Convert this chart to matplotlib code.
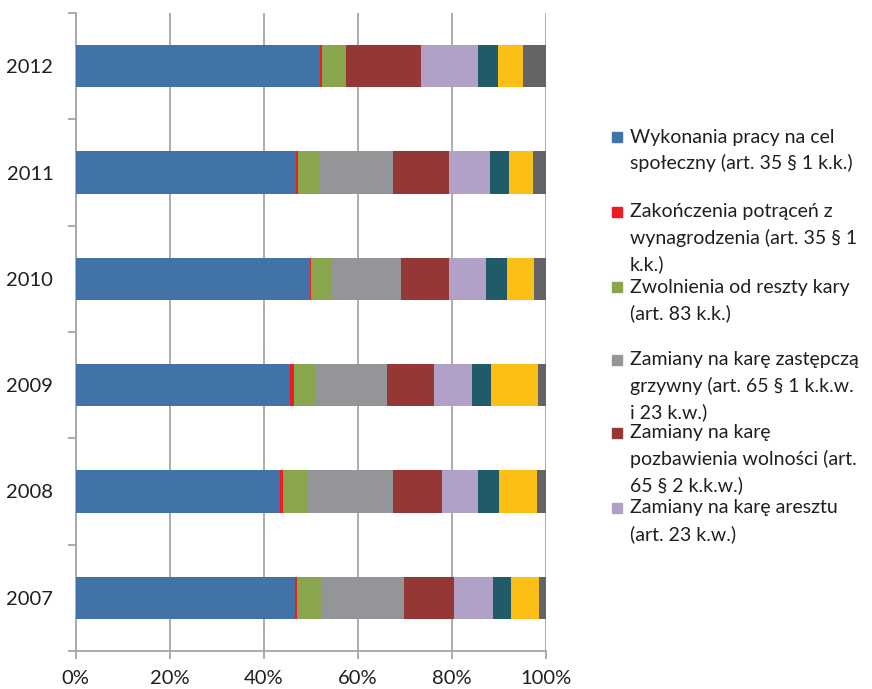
import numpy as np
import matplotlib.pyplot as plt
from matplotlib.patches import Rectangle

plt.rcParams['font.family'] = ['Lato', 'DejaVu Sans']

# Data (share in %), years bottom to top
years = ['2007', '2008', '2009', '2010', '2011', '2012']
praca = [46.8, 43.6, 45.6, 49.8, 46.9, 52.0]
potracenia = [0.3, 0.5, 0.8, 0.3, 0.4, 0.4]
zwolnienia = [5.3, 5.2, 4.8, 4.5, 4.7, 5.1]
zastepcza = [17.5, 18.3, 15.0, 14.7, 15.6, 0.0]
pozbawienie = [10.7, 10.4, 10.1, 10.2, 11.9, 16.0]
areszt = [8.3, 7.7, 8.0, 7.9, 8.7, 12.2]
inne1 = [3.8, 4.5, 4.2, 4.4, 4.0, 4.2]
inne2 = [6.0, 8.0, 9.9, 5.7, 5.1, 5.4]
inne3 = [1.3, 1.8, 1.6, 2.5, 2.7, 4.7]

series = [praca, potracenia, zwolnienia, zastepcza, pozbawienie, areszt, inne1, inne2, inne3]
colors = ['#4173A8', '#ED1C24', '#8AA64D', '#939598', '#953735',
          '#B2A1C7', '#215A68', '#FBBF15', '#636466']
legend_labels = [
    ['Wykonania pracy na cel', 'społeczny (art. 35 § 1 k.k.)'],
    ['Zakończenia potrąceń z', 'wynagrodzenia (art. 35 § 1', 'k.k.)'],
    ['Zwolnienia od reszty kary', '(art. 83 k.k.)'],
    ['Zamiany na karę zastępczą', 'grzywny (art. 65 § 1 k.k.w.', 'i 23 k.w.)'],
    ['Zamiany na karę', 'pozbawienia wolności (art.', '65 § 2 k.k.w.)'],
    ['Zamiany na karę aresztu', '(art. 23 k.w.)'],
]

W, H = 872, 689
fig = plt.figure(figsize=(W / 100, H / 100), dpi=100)
ax = fig.add_axes([75.5 / W, 1 - 651 / H, 470 / W, 638 / H])

vals = np.array(series)
totals = vals.sum(axis=0)
pct = vals / totals * 100
y = np.arange(len(years))
left = np.zeros(len(years))
for i, row in enumerate(pct):
    ax.barh(y, row, left=left, height=0.4, color=colors[i], linewidth=0, zorder=3)
    left += row

grid_c = '#A6A6A6'
txt_c = '#1F1F1F'
ax.set_xlim(0, 100)
ax.set_ylim(-0.5, len(years) - 0.5)
ax.set_xticks(np.arange(0, 101, 20))
ax.set_xticklabels([f'{v}%' for v in range(0, 101, 20)])
ax.set_yticks(y)
ax.set_yticklabels(years)
ax.set_yticks(np.arange(-0.5, len(years), 1), minor=True)
ax.xaxis.grid(True, color=grid_c, linewidth=1.3, zorder=0)
ax.set_axisbelow(True)
for s in ['top', 'right']:
    ax.spines[s].set_visible(False)
for s in ['left', 'bottom']:
    ax.spines[s].set_color(grid_c)
    ax.spines[s].set_linewidth(1.3)
ax.tick_params(axis='y', which='major', length=0, pad=16, labelsize=14.5, labelcolor=txt_c)
ax.tick_params(axis='y', which='minor', length=6, width=1.3, color=grid_c)
ax.tick_params(axis='x', which='major', length=6, width=1.3, color=grid_c, pad=8,
               labelsize=14.5, labelcolor=txt_c)

# manual legend (Excel shows only the first six entries)
first_rows = [137, 212, 287, 360, 433, 508]
line_h = 26
for i, lines in enumerate(legend_labels):
    yc = first_rows[i]
    fig.patches.append(Rectangle((612 / W, 1 - (yc + 5) / H), 10 / W, 10 / H,
                                 transform=fig.transFigure, color=colors[i]))
    for k, txt in enumerate(lines):
        fig.text(630 / W, 1 - (yc + k * line_h) / H, txt, fontsize=14,
                 va='center', ha='left', color=txt_c)

fig.savefig('out.png', dpi=100)
